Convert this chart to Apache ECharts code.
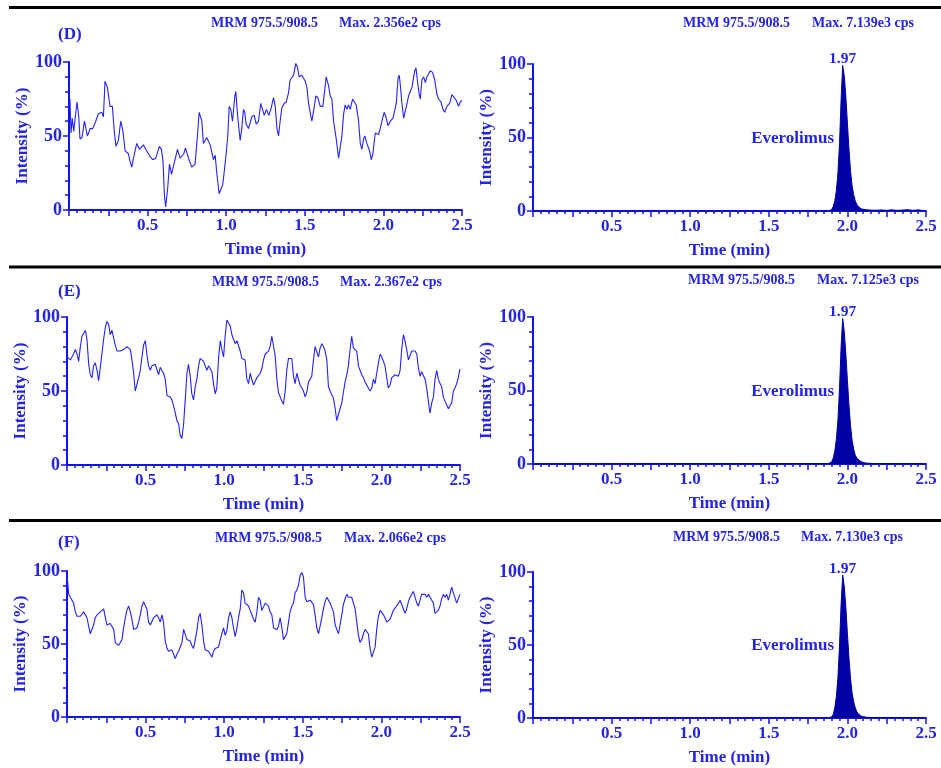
<!DOCTYPE html>
<html>
<head>
<meta charset="utf-8">
<title>MRM 975.5/908.5 chromatograms</title>
<script src="https://cdn.jsdelivr.net/npm/echarts@6/dist/echarts.min.js"></script>
<style>
  html, body { margin: 0; padding: 0; background: #ffffff; }
  #chart { width: 941px; height: 768px; }
</style>
</head>
<body>
<div id="chart"></div>
<script>
// ---- Blank-matrix traces (left column) ----
// Panel D: [time (min), intensity (%)]
const traceD = [
  [0.006,75],[0.013,52],[0.021,62],[0.030,53],[0.051,73],[0.062,63],[0.070,48],[0.083,49],[0.098,60],[0.117,50],
  [0.134,55],[0.151,55],[0.170,60],[0.187,65],[0.208,66],[0.219,63],[0.229,87],[0.244,83],[0.261,70],[0.276,70],
  [0.289,52],[0.299,43],[0.314,47],[0.329,60],[0.342,54],[0.357,40],[0.378,38],[0.388,33],[0.399,29],[0.414,37],
  [0.431,45],[0.448,41],[0.473,44],[0.494,40],[0.516,36],[0.533,34],[0.552,35],[0.575,43],[0.588,41],[0.598,33],
  [0.607,10],[0.615,2],[0.628,15],[0.639,31],[0.652,24],[0.660,25],[0.679,36],[0.690,41],[0.707,35],[0.730,38],
  [0.741,42],[0.760,35],[0.781,29],[0.802,31],[0.817,50],[0.828,66],[0.845,60],[0.855,45],[0.876,49],[0.898,44],
  [0.919,34],[0.930,37],[0.940,25],[0.955,11],[0.978,17],[0.997,35],[1.010,50],[1.019,70],[1.029,68],[1.040,60],
  [1.055,77],[1.061,80],[1.074,62],[1.089,47],[1.099,55],[1.110,68],[1.118,66],[1.127,58],[1.142,55],[1.163,63],
  [1.178,64],[1.191,58],[1.205,60],[1.220,72],[1.231,68],[1.242,64],[1.256,68],[1.271,64],[1.284,68],[1.301,76],
  [1.312,70],[1.323,55],[1.333,50],[1.343,60],[1.354,69],[1.369,72],[1.382,73],[1.396,79],[1.407,88],[1.428,91],
  [1.443,99],[1.452,97],[1.464,90],[1.481,91],[1.492,92],[1.503,87],[1.513,83],[1.524,72],[1.539,63],[1.545,60],
  [1.562,71],[1.570,77],[1.583,76],[1.598,70],[1.615,70],[1.636,90],[1.651,84],[1.662,77],[1.672,75],[1.683,60],
  [1.700,48],[1.715,35],[1.725,34],[1.736,50],[1.747,65],[1.757,71],[1.768,68],[1.778,71],[1.789,68],[1.804,75],
  [1.815,74],[1.827,71],[1.842,60],[1.853,45],[1.863,41],[1.874,48],[1.882,50],[1.895,45],[1.912,40],[1.923,34],
  [1.933,38],[1.948,52],[1.959,53],[1.969,51],[1.980,55],[1.995,62],[2.005,66],[2.016,63],[2.029,57],[2.044,60],
  [2.061,62],[2.071,63],[2.082,72],[2.093,89],[2.101,91],[2.107,85],[2.118,72],[2.129,62],[2.137,61],[2.146,70],
  [2.160,77],[2.171,78],[2.182,83],[2.199,94],[2.207,96],[2.218,86],[2.228,78],[2.235,75],[2.245,88],[2.256,90],
  [2.267,86],[2.277,90],[2.288,92],[2.298,94],[2.313,93],[2.326,88],[2.341,78],[2.351,75],[2.366,73],[2.379,68],
  [2.390,66],[2.404,70],[2.421,72],[2.436,78],[2.447,79],[2.464,74],[2.478,70],[2.489,73],[2.500,74]
];

// Scan times (min) shared by panels E and F
const scanTimes = [
  0.000,0.011,0.021,0.032,0.042,0.053,0.064,0.074,0.085,0.095,
  0.106,0.117,0.127,0.138,0.148,0.159,0.169,0.180,0.191,0.201,
  0.212,0.222,0.233,0.244,0.254,0.265,0.275,0.286,0.297,0.307,
  0.318,0.328,0.339,0.350,0.360,0.371,0.381,0.392,0.403,0.413,
  0.424,0.434,0.445,0.456,0.466,0.477,0.487,0.498,0.508,0.519,
  0.530,0.540,0.551,0.561,0.572,0.583,0.593,0.604,0.614,0.625,
  0.636,0.646,0.657,0.667,0.678,0.689,0.699,0.710,0.720,0.731,
  0.742,0.752,0.763,0.773,0.784,0.794,0.805,0.816,0.826,0.837,
  0.847,0.858,0.869,0.879,0.890,0.900,0.911,0.922,0.932,0.943,
  0.953,0.964,0.975,0.985,0.996,1.006,1.017,1.028,1.038,1.049,
  1.059,1.070,1.081,1.091,1.102,1.112,1.123,1.133,1.144,1.155,
  1.165,1.176,1.186,1.197,1.208,1.218,1.229,1.239,1.250,1.261,
  1.271,1.282,1.292,1.303,1.314,1.324,1.335,1.345,1.356,1.367,
  1.377,1.388,1.398,1.409,1.419,1.430,1.441,1.451,1.462,1.472,
  1.483,1.494,1.504,1.515,1.525,1.536,1.547,1.557,1.568,1.578,
  1.589,1.600,1.610,1.621,1.631,1.642,1.653,1.663,1.674,1.684,
  1.695,1.706,1.716,1.727,1.737,1.748,1.758,1.769,1.780,1.790,
  1.801,1.811,1.822,1.833,1.843,1.854,1.864,1.875,1.886,1.896,
  1.907,1.917,1.928,1.939,1.949,1.960,1.970,1.981,1.992,2.002,
  2.013,2.023,2.034,2.044,2.055,2.066,2.076,2.087,2.097,2.108,
  2.119,2.129,2.140,2.150,2.161,2.172,2.182,2.193,2.203,2.214,
  2.225,2.235,2.246,2.256,2.267,2.278,2.288,2.299,2.309,2.320,
  2.331,2.341,2.352,2.362,2.373,2.383,2.394,2.405,2.415,2.426,
  2.436,2.447,2.458,2.468,2.479,2.489,2.500
];

// Panel E intensities (%) at scanTimes
const valuesE = [
  73,73,71,72,75,78,75,70,80,87,
  89,91,85,68,61,59,67,69,64,57,
  66,75,85,93,97,95,88,91,90,81,
  77,78,77,76,78,79,80,79,78,71,
  62,50,51,59,64,73,81,84,75,67,
  64,67,68,68,68,61,66,67,62,58,
  47,46,46,44,40,35,30,28,20,18,
  28,44,62,68,60,48,44,53,58,67,
  72,72,70,67,64,67,68,63,55,48,
  52,72,84,78,73,87,98,97,94,88,
  85,82,84,85,77,72,73,71,58,55,
  62,61,54,53,59,60,62,65,71,75,
  74,77,80,87,86,74,58,49,46,43,
  41,50,64,72,73,72,60,55,62,61,
  54,52,50,46,49,56,55,60,71,80,
  79,73,79,82,80,77,71,53,50,49,
  45,38,30,31,38,42,49,56,61,67,
  78,87,79,80,77,67,64,61,59,56,
  54,52,50,52,58,55,62,69,75,73,
  70,67,59,52,54,59,58,61,62,60,
  64,78,88,84,78,71,72,77,76,77,
  75,66,60,63,62,58,52,43,35,42,
  46,58,64,58,55,53,46,43,42,38,
  37,42,50,52,55,59,65
];

// Panel F intensities (%) at scanTimes
const valuesF = [
  98,84,82,82,78,72,69,68,69,70,
  72,71,68,62,57,58,63,68,70,71,
  72,73,74,74,63,63,64,64,60,51,
  51,49,50,53,61,68,73,76,72,67,
  60,59,61,65,70,76,79,80,74,65,
  63,64,68,69,70,68,65,70,65,52,
  47,45,44,46,43,40,43,45,46,51,
  60,59,53,52,52,49,47,53,59,68,
  71,63,52,46,47,45,43,41,45,47,
  46,48,53,57,61,56,59,68,72,68,
  61,55,61,68,74,87,85,78,77,76,
  73,70,67,65,72,82,80,73,73,78,
  79,76,72,70,61,60,60,62,68,61,
  53,52,57,65,72,76,78,85,87,90,
  97,99,96,82,79,78,80,80,77,70,
  61,57,57,68,74,79,82,81,78,77,
  72,63,60,57,58,70,77,81,84,82,
  81,82,81,74,65,56,51,53,57,60,
  61,57,47,41,40,48,60,69,73,72,
  70,68,65,64,67,70,73,73,76,78,
  80,81,74,71,74,79,82,84,86,87,
  78,76,80,84,85,84,82,84,82,81,
  78,71,70,73,76,81,84,82,84,80,
  84,89,85,86,78,77,84
];

// ---- Everolimus peaks (right column) ----
const peakTimes = [0, 1.88, 1.89, 1.90, 1.91, 1.92, 1.93, 1.94, 1.95, 1.96,
  1.97, 1.98, 1.99, 2.00, 2.01, 2.02, 2.03, 2.04, 2.05, 2.06,
  2.07, 2.08, 2.09, 2.10, 2.12, 2.15, 2.18, 2.22, 2.25, 2.28,
  2.32, 2.35, 2.38, 2.42, 2.45, 2.48];
const peakD = [0, 0, 0.4, 1, 3, 7, 14, 26, 46, 76,
  99, 92, 78, 60, 42, 27, 17, 11, 7, 4.5,
  3, 2, 1.4, 1, 0.8, 0.6, 0.5, 0.7, 0.4, 0.8,
  0.4, 0.6, 0.9, 0.4, 0.8, 0.3];
const peakE = [0, 0.3, 0.8, 1.5, 4, 9, 17, 30, 52, 80,
  99, 90, 75, 57, 40, 26, 16, 10, 6, 4,
  2.8, 2, 1.5, 1, 0.6, 0.4, 0.3, 0.3, 0.2, 0.3,
  0.2, 0.3, 0.2, 0.2, 0.3, 0.2];
const peakF = [0, 0, 0.3, 0.8, 2.5, 7, 15, 28, 50, 78,
  98, 90, 76, 58, 41, 27, 17, 11, 7, 4.2,
  2.8, 1.8, 1.2, 0.8, 0.5, 0.3, 0.3, 0.2, 0.2, 0.3,
  0.2, 0.2, 0.2, 0.2, 0.2, 0.2];

const compoundName = 'Everolimus';
const compoundLabelAt = [1.915, 49.5];
const panelLetters = ['(D)', '(E)', '(F)'];
const mrmTransition = 'MRM 975.5/908.5';
const maxLeft = ['Max. 2.356e2 cps', 'Max. 2.367e2 cps', 'Max. 2.066e2 cps'];
const maxRight = ['Max. 7.139e3 cps', 'Max. 7.125e3 cps', 'Max. 7.130e3 cps'];
const xTicks = { min: 0, max: 2.5, step: 0.25 };
const yTicks = { min: 0, max: 100, step: 50 };

// ---- styling ----
const FONT = '"Liberation Serif", "Times New Roman", serif';
const TEXT = '#2424e6';
const AXIS = '#1212ee';
const TRACE = '#2222ff';
const PEAK = '#0000a4';

const gridBoxes = [
  { left: 69,  top: 62,  width: 393, height: 148 },
  { left: 533, top: 64,  width: 393, height: 147 },
  { left: 67,  top: 317, width: 393, height: 148 },
  { left: 533, top: 317, width: 393, height: 147 },
  { left: 67,  top: 571, width: 393, height: 146 },
  { left: 533, top: 572, width: 393, height: 146 }
];

function zip(t, v) { return t.map((x, i) => [x, v[i]]); }

function xAxisFor(i) {
  return {
    gridIndex: i, type: 'value', min: xTicks.min, max: xTicks.max, interval: xTicks.step,
    axisLine: { show: true, onZero: false, lineStyle: { color: AXIS, width: 2 } },
    axisTick: { show: true, inside: false, length: 6, lineStyle: { color: AXIS, width: 1.5 } },
    minorTick: { show: true, splitNumber: 5, length: 3, lineStyle: { color: AXIS, width: 1.5 } },
    splitLine: { show: false }, minorSplitLine: { show: false },
    axisLabel: {
      margin: 7, color: TEXT, fontFamily: FONT, fontWeight: 'bold', fontSize: 17,
      showMinLabel: true, showMaxLabel: true, hideOverlap: false,
      formatter: function (v) {
        const h = v * 2;
        return (v > 0 && Math.abs(h - Math.round(h)) < 1e-6) ? v.toFixed(1) : '';
      }
    },
    name: 'Time (min)', nameLocation: 'middle', nameGap: 31,
    nameTextStyle: { color: TEXT, fontFamily: FONT, fontWeight: 'bold', fontSize: 17 }
  };
}

function yAxisFor(i, gap) {
  return {
    gridIndex: i, type: 'value', min: yTicks.min, max: yTicks.max, interval: yTicks.step,
    axisLine: { show: true, onZero: false, lineStyle: { color: AXIS, width: 2 } },
    axisTick: { show: true, inside: false, length: 6, lineStyle: { color: AXIS, width: 1.5 } },
    minorTick: { show: true, splitNumber: 5, length: 4, lineStyle: { color: AXIS, width: 1.5 } },
    splitLine: { show: false }, minorSplitLine: { show: false },
    axisLabel: { margin: 7, color: TEXT, fontFamily: FONT, fontWeight: 'bold', fontSize: 18 },
    name: 'Intensity (%)', nameLocation: 'middle', nameGap: gap, nameRotate: 90,
    nameTextStyle: { color: TEXT, fontFamily: FONT, fontWeight: 'bold', fontSize: 17 }
  };
}

function traceSeries(i, data) {
  return {
    type: 'line', xAxisIndex: i, yAxisIndex: i, data: data,
    showSymbol: false, symbol: 'none', sampling: null, smooth: false,
    lineStyle: { color: TRACE, width: 1.1 }, silent: true, z: 3
  };
}

function peakSeries(i, values) {
  // find the apex so its retention time can be printed above it
  let apex = 0;
  values.forEach((v, k) => { if (v > values[apex]) apex = k; });
  const apexT = peakTimes[apex];
  const labelBase = { color: TEXT, fontFamily: FONT, fontWeight: 'bold' };
  return {
    type: 'line', xAxisIndex: i, yAxisIndex: i, data: zip(peakTimes, values),
    showSymbol: false, symbol: 'none', smooth: false,
    lineStyle: { color: PEAK, width: 1 },
    itemStyle: { color: PEAK },
    areaStyle: { color: PEAK, opacity: 1 },
    markPoint: {
      symbol: 'circle', symbolSize: 0, silent: true, animation: false,
      itemStyle: { color: 'transparent' },
      data: [
        {
          coord: [apexT, values[apex]],
          label: Object.assign({ show: true, position: 'top', distance: -2,
            formatter: apexT.toFixed(2), fontSize: 15.5 }, labelBase)
        },
        {
          coord: compoundLabelAt,
          label: Object.assign({ show: true, position: 'left', distance: 0,
            formatter: compoundName, fontSize: 17 }, labelBase)
        }
      ]
    },
    z: 3
  };
}

// header texts, panel letters, and row separators
const headerRows = [
  { letterY: 35,  lx: [211, 339], rx: [683, 812], rowLeftY: 23,  rowRightY: 23 },
  { letterY: 292, lx: [212, 340], rx: [688, 817], rowLeftY: 282, rowRightY: 280 },
  { letterY: 543, lx: [215, 344], rx: [673, 801], rowLeftY: 538, rowRightY: 537 }
];
const separatorY = [7.5, 267, 520.5];

const graphics = [];
separatorY.forEach(y => {
  graphics.push({ type: 'line', shape: { x1: 9, y1: y, x2: 941, y2: y },
    style: { stroke: '#000000', lineWidth: 3 }, silent: true });
});
function addText(text, x, y, size) {
  graphics.push({ type: 'text', x: x, y: y, silent: true,
    style: { text: text, fill: TEXT, font: 'bold ' + size + 'px ' + FONT, verticalAlign: 'middle', align: 'left' } });
}
headerRows.forEach((r, k) => {
  addText(panelLetters[k], 58, r.letterY, 17);
  addText(mrmTransition, r.lx[0], r.rowLeftY, 14);
  addText(maxLeft[k], r.lx[1], r.rowLeftY, 14);
  addText(mrmTransition, r.rx[0], r.rowRightY, 14);
  addText(maxRight[k], r.rx[1], r.rowRightY, 14);
});

const grids = gridBoxes.map(b => Object.assign({ containLabel: false, outerBoundsMode: 'none' }, b));
const xAxes = gridBoxes.map((b, i) => xAxisFor(i));
const yAxes = gridBoxes.map((b, i) => yAxisFor(i, i % 2 === 0 ? 35 : 36));

const series = [
  traceSeries(0, traceD),
  peakSeries(1, peakD),
  traceSeries(2, zip(scanTimes, valuesE)),
  peakSeries(3, peakE),
  traceSeries(4, zip(scanTimes, valuesF)),
  peakSeries(5, peakF)
];

const chart = echarts.init(document.getElementById('chart'), null, { renderer: 'canvas' });
chart.setOption({
  animation: false,
  backgroundColor: '#ffffff',
  grid: grids,
  xAxis: xAxes,
  yAxis: yAxes,
  series: series,
  graphic: graphics
});
</script>
</body>
</html>
